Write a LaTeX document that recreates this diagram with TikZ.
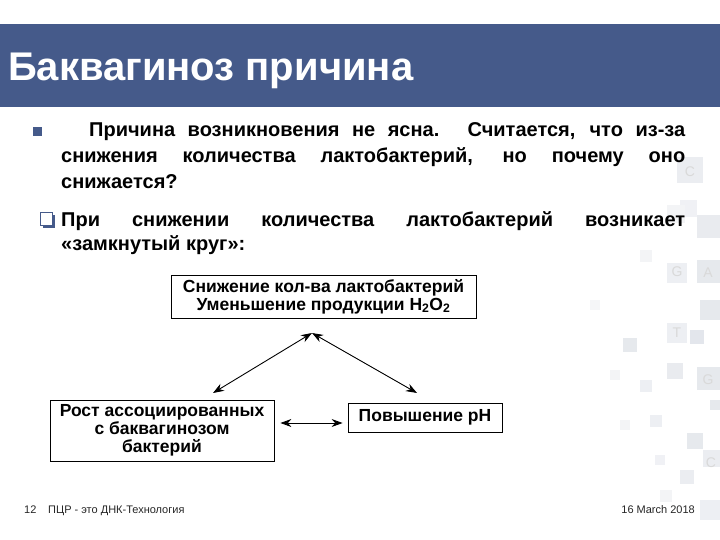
\documentclass[tikz,border=0pt]{standalone}
\usepackage{fontspec}
\setmainfont{Liberation Sans}
\usepackage{tikz}
\usetikzlibrary{arrows.meta,calc}
\definecolor{barblue}{RGB}{69,90,138}
\definecolor{tilegray}{RGB}{205,210,220}
\tikzset{
  dblarrow/.style={{Stealth[length=11pt,width=8pt]}-{Stealth[length=11pt,width=8pt]}, line width=0.9pt},
  boxnode/.style={draw=black, line width=0.8pt, inner sep=0pt, align=center, font=\bfseries\fontsize{17.5}{18}\selectfont},
  bodytext/.style={anchor=base west, inner sep=0pt, font=\bfseries\fontsize{20}{24}\selectfont},
  footnote/.style={anchor=base west, inner sep=0pt, font=\fontsize{11}{13}\selectfont, text=black!85}
}
\begin{document}
\begin{tikzpicture}[x=1pt,y=-1pt]
\useasboundingbox (0,0) rectangle (720,540);
\fill[white] (0,0) rectangle (720,540);
% faint tiles at the right edge
\foreach \x/\y/\s/\c in {677/157/26/40, 680/200/17/30, 667/205/18/25, 697/215/23/45, 697/260/23/50,
  667/263/20/35, 640/250/12/25, 700/300/20/50, 590/300/10/20, 623/338/14/50, 667/323/20/35,
  690/330/14/55, 667/363/16/45, 697/367/23/50, 640/380/12/35, 610/370/10/25, 710/400/10/50,
  650/415/12/35, 620/420/10/25, 687/433/16/50, 703/450/17/40, 655/455/10/30, 680/470/14/40,
  660/490/12/25, 700/500/20/35}
  \fill[tilegray!\c] (\x,\y) rectangle ++(\s,\s);
\foreach \lx/\ly/\lt in {690/172/C, 708/273/A, 677/272/G, 677/333/T, 708/380/G, 711/463/C}
  \node[text=black!15, font=\fontsize{14}{14}\selectfont] (tile\lt\lx) at (\lx,\ly) {\lt};
% title bar
\fill[barblue] (0,24) rectangle (720,107);
\node[anchor=base west, inner sep=0pt, text=white, font=\bfseries\fontsize{40}{46}\selectfont] (title) at (8,81) {Баквагиноз причина};
% bullets
\fill[barblue] (33,127) rectangle (42,136);
\fill[barblue] (43,215) rectangle (55,228);
\filldraw[fill=white, draw=barblue, line width=0.8pt] (40,212) rectangle (52,225);
\node[bodytext] (la) at (89,137) {\makebox[596pt][s]{Причина возникновения не ясна. Считается, что из-за}};
\node[bodytext] (lb) at (61,163) {\makebox[624pt][s]{снижения количества лактобактерий, но почему оно}};
\node[bodytext] (lc) at (61,189) {снижается?};
\node[bodytext] (ld) at (61,226) {\makebox[624pt][s]{При снижении количества лактобактерий возникает}};
\node[bodytext] (le) at (61,251) {«замкнутый круг»:};
% cycle
\node[boxnode, minimum width=305pt, minimum height=43pt] (top) at (323.5,296.5)
  {Снижение кол-ва лактобактерий\\Уменьшение продукции H\textsubscript{2}O\textsubscript{2}};
\node[boxnode, minimum width=224pt, minimum height=61pt] (lbox) at (162,430.5)
  {Рост ассоциированных\\с баквагинозом\\бактерий};
\node[boxnode, minimum width=154pt, minimum height=29pt] (rbox) at (425,417.5) {Повышение pH};
\coordinate (apex) at (312,333);
\coordinate (ltip) at (213,393);
\coordinate (rtip) at (417,393);
\draw[dblarrow] (apex) -- (ltip);
\draw[dblarrow] (apex) -- (rtip);
\draw[dblarrow] ($(lbox.east)+(6,-7.5)$) -- ($(rbox.west)+(-5,5.5)$);
% footer
\node[footnote] (num) at (24,513) {12};
\node[footnote] (firm) at (48,513) {ПЦР - это ДНК-Технология};
\node[footnote, anchor=base east] (date) at (695,513) {16 March 2018};
\end{tikzpicture}
\end{document}
